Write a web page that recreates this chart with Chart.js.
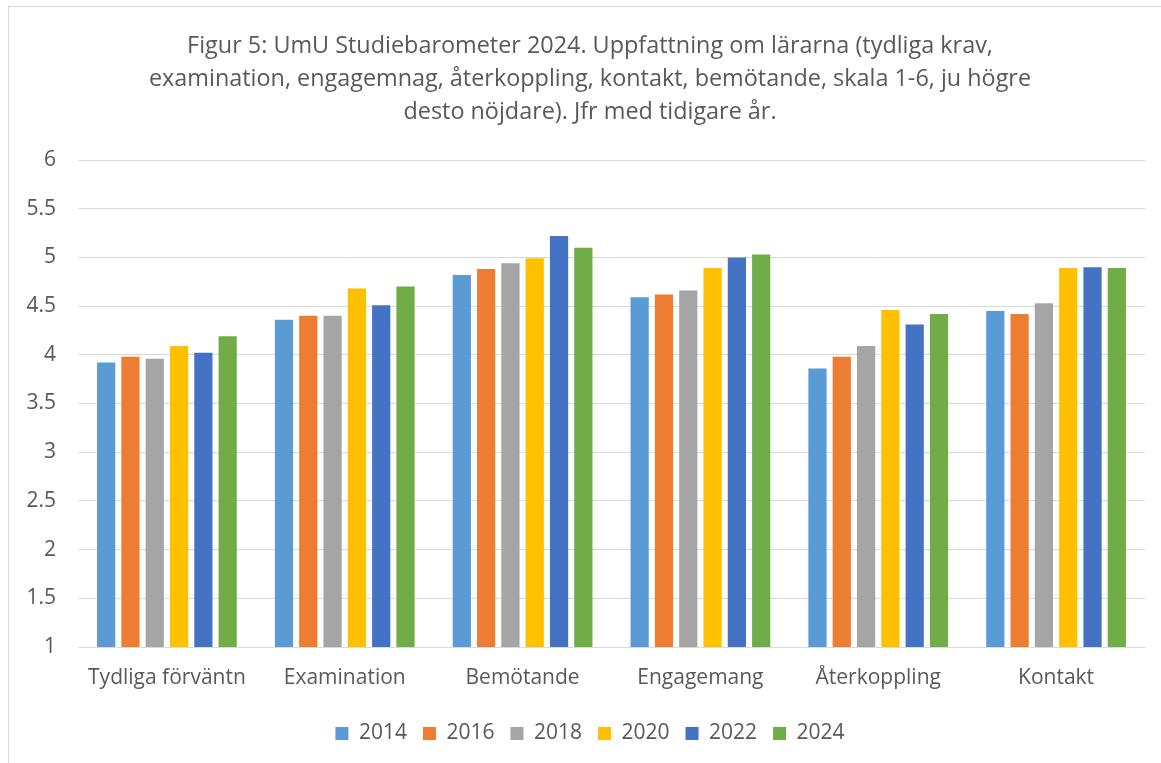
<!DOCTYPE html>
<html>
<head>
<meta charset="utf-8">
<script src="https://cdn.jsdelivr.net/npm/chart.js@4"></script>
<style>
  html, body { margin: 0; padding: 0; background: #fff; overflow: hidden; width: 1161px; height: 763px; }
  #wrap { position: absolute; left: 0; top: 0; width: 1161px; height: 763px; overflow: hidden; }
  #c { position: absolute; left: 0; top: 0; }
  #frame { position: absolute; left: 8px; top: 6px; width: 1170px; height: 780px; border: 1px solid #d9d9d9; box-sizing: border-box; pointer-events: none; }
</style>
</head>
<body>
<div id="wrap">
  <canvas id="c" width="1180" height="763"></canvas>
  <div id="frame"></div>
</div>
<script>
const titleLines = [
  "Figur 5: UmU Studiebarometer 2024. Uppfattning om lärarna (tydliga krav,",
  "examination, engagemnag, återkoppling, kontakt, bemötande, skala 1-6, ju högre",
  "desto nöjdare). Jfr med tidigare år."
];
const categories = ["Tydliga förväntn", "Examination", "Bemötande", "Engagemang", "Återkoppling", "Kontakt"];
const years = ["2014", "2016", "2018", "2020", "2022", "2024"];
const v2014 = [3.92, 4.36, 4.82, 4.59, 3.86, 4.45];
const v2016 = [3.98, 4.40, 4.88, 4.62, 3.98, 4.42];
const v2018 = [3.96, 4.40, 4.94, 4.66, 4.09, 4.53];
const v2020 = [4.09, 4.68, 4.99, 4.89, 4.46, 4.89];
const v2022 = [4.02, 4.51, 5.22, 5.00, 4.31, 4.90];
const v2024 = [4.19, 4.70, 5.10, 5.03, 4.42, 4.89];
const yMin = 1, yMax = 6, yStep = 0.5;
const colors = ["#5B9BD5", "#ED7D31", "#A5A5A5", "#FFC000", "#4472C4", "#70AD47"];
const series = [v2014, v2016, v2018, v2020, v2022, v2024];

const FONT = "'Open Sans', Lato, sans-serif";
const TXT = "#595959";

new Chart(document.getElementById('c'), {
  type: 'bar',
  data: {
    labels: categories,
    datasets: series.map((d, i) => ({
      label: years[i],
      data: d,
      backgroundColor: colors[i],
      borderWidth: 0,
      categoryPercentage: 0.82,
      barPercentage: 0.75
    }))
  },
  options: {
    responsive: false,
    animation: false,
    devicePixelRatio: 1,
    layout: { padding: { left: 0, right: 0, top: 30, bottom: 9 } },
    plugins: {
      title: {
        display: true,
        text: titleLines,
        color: TXT,
        font: { family: FONT, size: 23.4, weight: 'normal', lineHeight: '33px' },
        padding: { top: 0, bottom: 31 }
      },
      legend: {
        position: 'bottom',
        labels: {
          color: TXT,
          font: { family: FONT, size: 21 },
          boxWidth: 13,
          boxHeight: 13,
          padding: 16
        }
      },
      tooltip: { enabled: false }
    },
    scales: {
      x: {
        grid: { display: false, drawTicks: false },
        border: { color: '#d9d9d9', width: 1 },
        ticks: { color: TXT, font: { family: FONT, size: 21 }, padding: 18, maxRotation: 0 },
        afterFit: (s) => { s.height = 60; }
      },
      y: {
        min: yMin, max: yMax,
        grid: { color: '#d9d9d9', lineWidth: 1, drawTicks: false },
        border: { display: false },
        ticks: { stepSize: yStep, color: TXT, font: { family: FONT, size: 21 }, padding: 22,
                 callback: (v) => String(v) },
        afterFit: (s) => { s.width = 78; }
      },
      ySpacer: {
        type: 'linear',
        position: 'right',
        display: true,
        grid: { display: false, drawTicks: false },
        border: { display: false },
        ticks: { display: false },
        afterFit: (s) => { s.width = 35; }
      }
    }
  }
});
</script>
</body>
</html>
